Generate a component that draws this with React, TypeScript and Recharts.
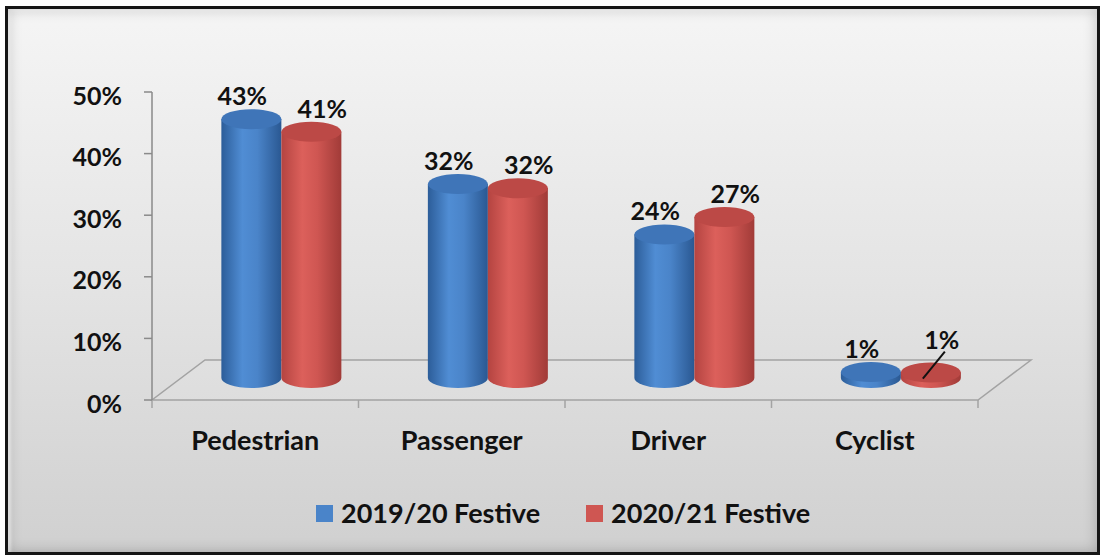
import React from 'react';
import { BarChart, Bar, XAxis, YAxis, LabelList } from 'recharts';

const categories = ['Pedestrian', 'Passenger', 'Driver', 'Cyclist'];
const festive1920 = [43.1, 32.3, 23.9, 1.0];
const festive2021 = [41.0, 31.6, 26.8, 0.9];
const yTicks = [0, 10, 20, 30, 40, 50];
const seriesNames = ['2019/20 Festive', '2020/21 Festive'];

const data = categories.map((name, i) => ({
  name,
  a: festive1920[i],
  b: festive2021[i],
}));

const W = 1101;
const H = 558;
const M = { top: 92, right: 123, bottom: 118, left: 82 };
const Y_AXIS_W = 70;
const X_AXIS_H = 40;
const PLOT_L = M.left + Y_AXIS_W;
const PLOT_R = W - M.right;
const PLOT_B = H - M.bottom - X_AXIS_H;
// 3d floor depth; the cylinders stand about half way back
const DEPTH_X = 53;
const DEPTH_Y = -40;
const BAR_DX = 26;
const BAR_DY = -22;
const BAR_SCALE = 0.975;
const RY = 10;
const FONT = 'Lato, "Open Sans", sans-serif';

const palette = {
  a: { stops: ['#2c5d99', '#508dd4', '#4a84c9', '#2a5892'], top: '#3f75b8' },
  b: { stops: ['#b44441', '#dc605b', '#cf5652', '#a13b38'], top: '#bc4946' },
};

function cylTop(y: number, height: number) {
  const bottom = y + height + BAR_DY;
  return bottom - height * BAR_SCALE;
}

function Cylinder(props: any) {
  const { x, y, width, height, dataKey, index } = props;
  const c = palette[dataKey as 'a' | 'b'];
  const left = x + BAR_DX;
  const right = left + width;
  const bottom = y + height + BAR_DY;
  const top = cylTop(y, height);
  const rx = width / 2;
  const gid = `cyl-${dataKey}-${index}`;
  return (
    <g>
      <defs>
        <linearGradient id={gid} x1="0" y1="0" x2="1" y2="0">
          <stop offset="0%" stopColor={c.stops[0]} />
          <stop offset="35%" stopColor={c.stops[1]} />
          <stop offset="60%" stopColor={c.stops[2]} />
          <stop offset="100%" stopColor={c.stops[3]} />
        </linearGradient>
      </defs>
      <path
        d={`M${left},${top} L${left},${bottom} A${rx},${RY} 0 0 0 ${right},${bottom} L${right},${top} Z`}
        fill={`url(#${gid})`}
      />
      <ellipse cx={left + rx} cy={top} rx={rx} ry={RY} fill={c.top} />
    </g>
  );
}

function makeLabel(series: 'a' | 'b') {
  return (props: any) => {
    const { x, y, width, height, value } = props;
    const barCx = x + width / 2 + BAR_DX;
    const cx = barCx + (series === 'a' ? -9 : 11);
    const topY = cylTop(y, height);
    const small = value < 5;
    const ty = topY - RY - 4 - (small && series === 'b' ? 10 : 0);
    return (
      <g>
        {small && series === 'b' ? (
          <line x1={cx + 3} y1={ty + 3} x2={barCx - 8} y2={topY + 6} stroke="#111" strokeWidth={2} />
        ) : null}
        <text
          x={cx}
          y={ty}
          textAnchor="middle"
          fontFamily={FONT}
          fontWeight={700}
          fontSize={25}
          fill="#111"
        >
          {`${Math.round(value)}%`}
        </text>
      </g>
    );
  };
}

function YTick(props: any) {
  const { y, payload } = props;
  return (
    <text
      x={PLOT_L - 30}
      y={y + 12.5}
      textAnchor="end"
      fontFamily={FONT}
      fontWeight={700}
      fontSize={25}
      fill="#111"
    >
      {`${payload.value}%`}
    </text>
  );
}

function XTick(props: any) {
  const { x, payload } = props;
  return (
    <text
      x={x}
      y={PLOT_B + 50}
      textAnchor="middle"
      fontFamily={FONT}
      fontWeight={700}
      fontSize={27}
      fill="#111"
    >
      {payload.value}
    </text>
  );
}

function Floor() {
  const band = (PLOT_R - PLOT_L) / categories.length;
  const p = (x: number, y: number) => `${x},${y}`;
  return (
    <svg width={W} height={H} style={{ position: 'absolute', left: 0, top: 0 }}>
      <polygon
        points={[
          p(PLOT_L, PLOT_B),
          p(PLOT_R, PLOT_B),
          p(PLOT_R + DEPTH_X, PLOT_B + DEPTH_Y),
          p(PLOT_L + DEPTH_X, PLOT_B + DEPTH_Y),
        ].join(' ')}
        fill="rgba(255,255,255,0.08)"
        stroke="#a3a3a3"
        strokeWidth={1.5}
      />
      {categories.concat(['']).map((_, i) => (
        <line
          key={i}
          x1={PLOT_L + band * i}
          x2={PLOT_L + band * i}
          y1={PLOT_B}
          y2={PLOT_B + 8}
          stroke="#a3a3a3"
          strokeWidth={1.5}
        />
      ))}
    </svg>
  );
}

function Legend() {
  const colors = ['#4a84c9', '#cf5652'];
  return (
    <div
      style={{
        position: 'absolute',
        left: 316,
        top: 496,
        display: 'flex',
        gap: 46,
        fontFamily: FONT,
        fontWeight: 700,
        fontSize: 27,
        color: '#111',
        lineHeight: '34px',
      }}
    >
      {seriesNames.map((n, i) => (
        <div key={n} style={{ display: 'flex', alignItems: 'center', gap: 8 }}>
          <span style={{ width: 17, height: 17, background: colors[i], display: 'inline-block' }} />
          <span>{n}</span>
        </div>
      ))}
    </div>
  );
}

export default function App() {
  return (
    <div style={{ position: 'absolute', left: 0, top: 0, width: W, height: H, background: '#fff' }}>
      <div
        style={{
          position: 'absolute',
          left: 5,
          top: 6,
          width: 1089,
          height: 543,
          border: '3px solid #151515',
          background: 'linear-gradient(180deg, #f5f5f5 0%, #e4e4e4 50%, #d0d0d0 100%)',
          boxShadow: 'inset 0 0 14px rgba(0,0,0,0.22), inset 3px 3px 3px rgba(255,255,255,0.8)',
        }}
      />
      <Floor />
      <div style={{ position: 'absolute', left: 0, top: 0 }}>
        <BarChart width={W} height={H} data={data} margin={M} barCategoryGap="21%" barGap={0}>
          <XAxis
            dataKey="name"
            height={X_AXIS_H}
            axisLine={false}
            tickLine={false}
            tick={<XTick />}
            interval={0}
          />
          <YAxis
            width={Y_AXIS_W}
            domain={[0, 50]}
            ticks={yTicks}
            axisLine={{ stroke: '#8a8a8a', strokeWidth: 1.5 }}
            tickLine={{ stroke: '#8a8a8a', strokeWidth: 1.5 }}
            tickSize={8}
            tick={<YTick />}
          />
          <Bar dataKey="a" name={seriesNames[0]} shape={<Cylinder />} isAnimationActive={false}>
            <LabelList dataKey="a" content={makeLabel('a')} />
          </Bar>
          <Bar dataKey="b" name={seriesNames[1]} shape={<Cylinder />} isAnimationActive={false}>
            <LabelList dataKey="b" content={makeLabel('b')} />
          </Bar>
        </BarChart>
      </div>
      <Legend />
    </div>
  );
}
